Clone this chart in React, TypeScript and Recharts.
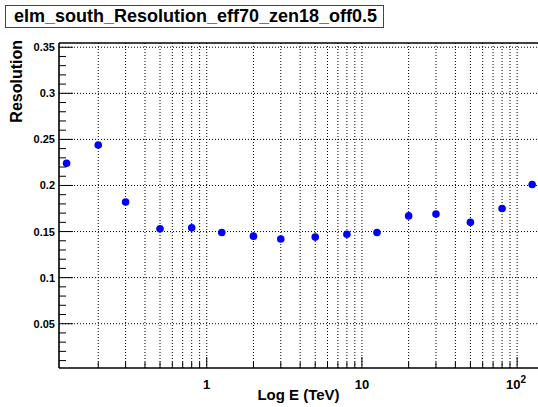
import React from 'react';
import { ScatterChart, Scatter, XAxis, YAxis, ReferenceLine, Label } from 'recharts';

// energy bins (TeV) and the resolution measured in each
const energy = [0.125, 0.2, 0.3, 0.5, 0.8, 1.25, 2, 3, 5, 8, 12.5, 20, 30, 50, 80, 125];
const resolution = [0.224, 0.244, 0.182, 0.153, 0.154, 0.149, 0.145, 0.142, 0.144, 0.147, 0.149, 0.167, 0.169, 0.160, 0.175, 0.201];

// log axis ticks, labelled only at the decades
const xTicks = [
  0.2, 0.3, 0.4, 0.5, 0.6, 0.7, 0.8, 0.9,
  1, 2, 3, 4, 5, 6, 7, 8, 9,
  10, 20, 30, 40, 50, 60, 70, 80, 90,
  100,
];
const xDecades = [1, 10, 100];

const yMajor = [0.05, 0.1, 0.15, 0.2, 0.25, 0.3, 0.35];
const yMinor = [
  0.01, 0.02, 0.03, 0.04, 0.06, 0.07, 0.08, 0.09,
  0.11, 0.12, 0.13, 0.14, 0.16, 0.17, 0.18, 0.19,
  0.21, 0.22, 0.23, 0.24, 0.26, 0.27, 0.28, 0.29,
  0.31, 0.32, 0.33, 0.34,
];

const X_MIN = 0.1117;
const X_MAX = 136.3;
const Y_MIN = 0.00195;
const Y_MAX = 0.3546;

const FONT = '"Liberation Sans", Arial, Helvetica, sans-serif';

const points = energy.map((e, i) => ({ e, r: resolution[i] }));
const yTicks = [...yMinor, ...yMajor].sort((a, b) => a - b);

const XTick = (props: any) => {
  const { x, y, payload } = props;
  const v = payload.value;
  const major = xDecades.includes(v);
  return (
    <g>
      <line x1={x} x2={x} y1={y} y2={y - (major ? 11 : 6)} stroke="#000" />
      {v === 1 && (
        <text x={x} y={y + 21} textAnchor="middle" fontSize={13} fontWeight="bold" fontFamily={FONT}>1</text>
      )}
      {v === 10 && (
        <text x={x} y={y + 21} textAnchor="middle" fontSize={13} fontWeight="bold" fontFamily={FONT}>10</text>
      )}
      {v === 100 && (
        <text x={x - 1} y={y + 21} textAnchor="middle" fontSize={13} fontWeight="bold" fontFamily={FONT}>
          10<tspan fontSize={10} dy={-6}>2</tspan>
        </text>
      )}
    </g>
  );
};

const YTick = (props: any) => {
  const { x, y, payload } = props;
  const v = payload.value;
  const major = yMajor.includes(v);
  return (
    <g>
      <line x1={x} x2={x + (major ? 14 : 7)} y1={y} y2={y} stroke="#000" />
      {major && (
        <text x={x - 4} y={y + 4} textAnchor="end" fontSize={11} fontWeight="bold" fontFamily={FONT}>
          {String(v)}
        </text>
      )}
    </g>
  );
};

const Dot = (props: any) => <circle cx={props.cx} cy={props.cy} r={3.8} fill="#0000ff" />;

export default function App() {
  return (
    <div style={{ position: 'absolute', left: 0, top: 0, width: 538, height: 407, background: '#fff', fontFamily: FONT }}>
      <div
        style={{
          position: 'absolute',
          left: 5,
          top: 5,
          width: 379,
          height: 23,
          border: '1px solid #444',
          boxSizing: 'border-box',
          fontSize: 18,
          fontWeight: 'bold',
          lineHeight: '21px',
          paddingLeft: 8,
          whiteSpace: 'nowrap',
          overflow: 'hidden',
        }}
      >
        elm_south_Resolution_eff70_zen18_off0.5
      </div>
      <ScatterChart width={538} height={407} margin={{ top: 43, right: 0, bottom: 0, left: 0 }}>
        {xTicks.map((v) => (
          <ReferenceLine key={`gx${v}`} x={v} stroke="#000" strokeDasharray="1 2" />
        ))}
        {yMajor.map((v) => (
          <ReferenceLine key={`gy${v}`} y={v} stroke="#000" strokeDasharray="1 2" />
        ))}
        <ReferenceLine y={Y_MAX} stroke="#000" strokeWidth={1.6} />
        <XAxis
          dataKey="e"
          type="number"
          scale="log"
          domain={[X_MIN, X_MAX]}
          allowDataOverflow
          ticks={xTicks}
          interval={0}
          tick={<XTick />}
          tickLine={false}
          tickSize={0}
          tickMargin={0}
          axisLine={{ stroke: '#000', strokeWidth: 1.6 }}
          height={39}
        >
          <Label
            content={(p: any) => {
              const vb = p.viewBox;
              return (
                <text x={vb.x + vb.width / 2} y={vb.y + 32} textAnchor="middle" fontSize={15} fontWeight="bold" fontFamily={FONT}>
                  Log E (TeV)
                </text>
              );
            }}
          />
        </XAxis>
        <YAxis
          dataKey="r"
          type="number"
          domain={[Y_MIN, Y_MAX]}
          allowDataOverflow
          ticks={yTicks}
          interval={0}
          tick={<YTick />}
          tickLine={false}
          tickSize={0}
          tickMargin={0}
          axisLine={{ stroke: '#000', strokeWidth: 1.6 }}
          width={59}
        >
          <Label
            content={(p: any) => {
              const vb = p.viewBox;
              const tx = 22;
              const ty = vb.y - 3;
              return (
                <text
                  x={tx}
                  y={ty}
                  transform={`rotate(-90, ${tx}, ${ty})`}
                  textAnchor="end"
                  fontSize={16}
                  fontWeight="bold"
                  fontFamily={FONT}
                >
                  Resolution
                </text>
              );
            }}
          />
        </YAxis>
        <Scatter data={points} shape={<Dot />} isAnimationActive={false} />
      </ScatterChart>
    </div>
  );
}
